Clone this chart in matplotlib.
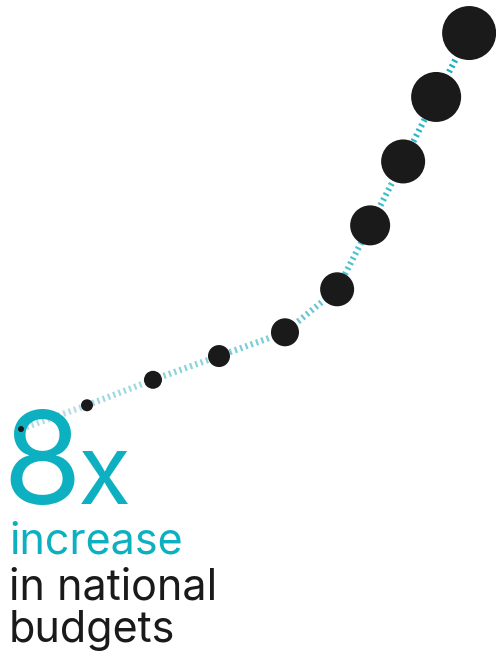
import matplotlib.pyplot as plt
import numpy as np
from matplotlib.colors import to_rgb

# budget growth, relative to the first year
steps = [0, 1, 2, 3, 4, 4.79, 5.29, 5.79, 6.29, 6.79]
budget = [1, 1.42, 1.87, 2.29, 2.71, 3.47, 4.6, 5.73, 6.87, 8.0]
dot_radius = [3, 6, 9, 11, 14, 17, 20, 22, 25, 27]  # px

fig = plt.figure(figsize=(4.96, 6.57), dpi=100)
ax = fig.add_axes([0, 0, 1, 1])
ax.set_xlim(-0.318, 7.197)
ax.set_ylim(-3.03, 8.584)
ax.axis("off")

light = np.array(to_rgb("#b3dde5"))
dark = np.array(to_rgb("#17b2c5"))
n = len(steps)
for i in range(n - 1):
    t = i / (n - 2)
    c = light * (1 - t) + dark * t
    ax.plot(steps[i:i + 2], budget[i:i + 2], color=c, lw=4.5,
            linestyle=(0, (0.35, 0.55)), solid_capstyle="butt",
            dash_capstyle="butt", zorder=1)

sizes = [(2 * r * 0.72) ** 2 for r in dot_radius]
ax.scatter(steps, budget, s=sizes, color="#1a1a1a", zorder=3, linewidths=0)

cyan = "#0db0c0"
tf = fig.transFigure
ax.text(0.005, 0.233, "8", color=cyan, fontsize=92, family="Inter",
        ha="left", va="baseline", transform=tf, zorder=2)
ax.text(0.158, 0.233, "x", color=cyan, fontsize=70, family="Inter",
        ha="left", va="baseline", transform=tf, zorder=2)
ax.text(0.018, 0.158, "increase", color=cyan, fontsize=31, family="Inter",
        ha="left", va="baseline", transform=tf)
ax.text(0.018, 0.087, "in national", color="#1a1a1a", fontsize=31,
        family="Inter", ha="left", va="baseline", transform=tf)
ax.text(0.018, 0.023, "budgets", color="#1a1a1a", fontsize=31,
        family="Inter", ha="left", va="baseline", transform=tf)

fig.savefig("out.png", dpi=100)
